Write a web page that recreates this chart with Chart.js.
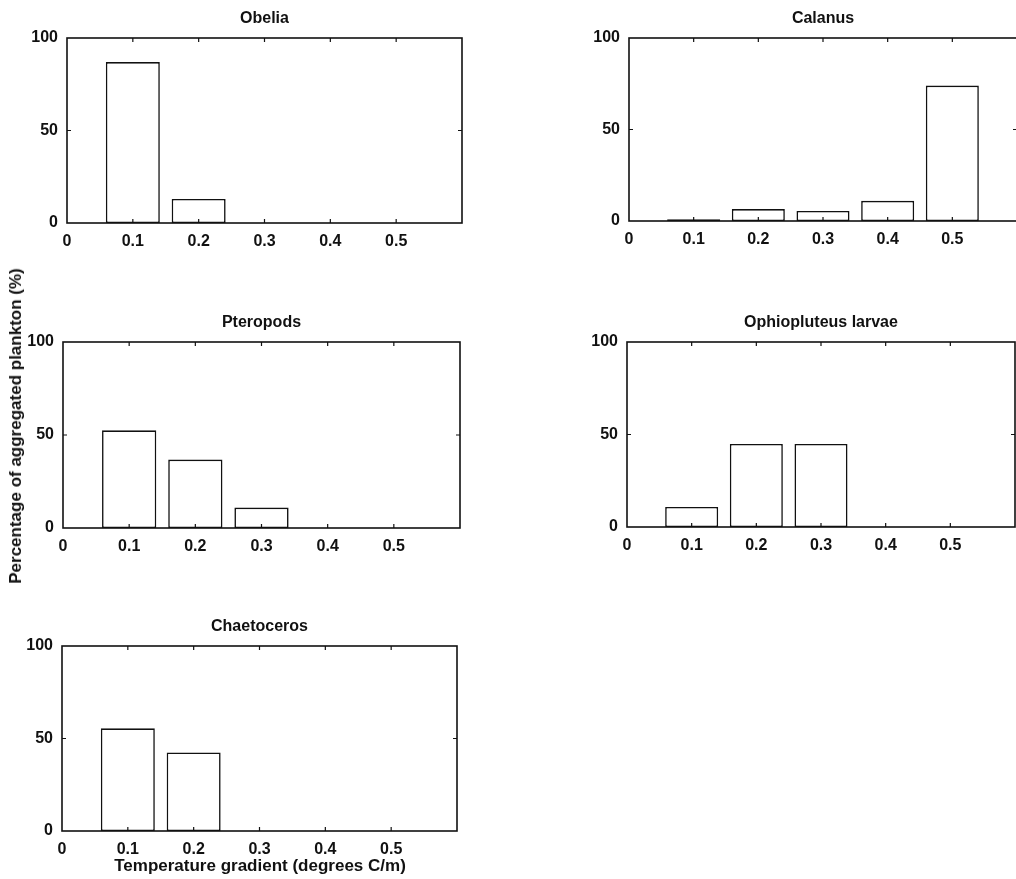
<!DOCTYPE html>
<html>
<head>
<meta charset="utf-8">
<script src="https://cdn.jsdelivr.net/npm/chart.js@4.4.1/dist/chart.umd.min.js"></script>
<style>
  html, body { margin: 0; padding: 0; background: #fff; overflow: hidden; }
  body { width: 1016px; height: 879px; position: relative; font-family: 'Liberation Sans', Arial, sans-serif; }
  canvas { position: absolute; }
  .lbl { position: absolute; font-weight: bold; font-size: 17px; color: #111; white-space: nowrap; }
</style>
</head>
<body>
<canvas id="c1"></canvas>
<canvas id="c2"></canvas>
<canvas id="c3"></canvas>
<canvas id="c4"></canvas>
<canvas id="c5"></canvas>
<div class="lbl" id="ylab" style="left:16px; top:426px; transform: translate(-50%,-50%) rotate(-90deg);">Percentage of aggregated plankton (%)</div>
<div class="lbl" id="xlab" style="left:260px; top:866px; transform: translate(-50%,-50%);">Temperature gradient (degrees C/m)</div>
<script>
// gradient classes (degrees C/m)
const gradients = [0.1, 0.2, 0.3, 0.4, 0.5];
const xTicks = [0, 0.1, 0.2, 0.3, 0.4, 0.5, 0.6];
const yTicks = [0, 50, 100];

// percentage of aggregated plankton per taxon
const obelia = [87, 13, 0, 0, 0];
const calanus = [1, 6.5, 5.5, 11, 74];
const pteropods = [52.5, 36.8, 11, 0, 0];
const ophiopluteus = [10.8, 44.9, 44.9, 0, 0];
const chaetoceros = [55.5, 42.5, 0, 0, 0];

// panel boxes: left, top, right, bottom of plot area
const panels = [
  { id: 'c1', title: 'Obelia', values: obelia, box: [67, 38, 462, 223] },
  { id: 'c2', title: 'Calanus', values: calanus, box: [629, 38, 1017, 221] },
  { id: 'c3', title: 'Pteropods', values: pteropods, box: [63, 342, 460, 528] },
  { id: 'c4', title: 'Ophiopluteus larvae', values: ophiopluteus, box: [627, 342, 1015, 527] },
  { id: 'c5', title: 'Chaetoceros', values: chaetoceros, box: [62, 646, 457, 831] }
];

const FONT = "'Liberation Sans', Arial, sans-serif";
const PADL = 50, PADT = 34, PADR = 10, PADB = 30;

// frame with inward ticks on all four sides + title
const frame = {
  id: 'frame',
  afterDraw(chart, args, opts) {
    const ctx = chart.ctx;
    const a = chart.chartArea;
    const xs = chart.scales.x, ys = chart.scales.y;
    ctx.save();
    ctx.strokeStyle = '#111';
    ctx.lineWidth = 1.6;
    ctx.strokeRect(a.left, a.top, a.right - a.left, a.bottom - a.top);
    ctx.lineWidth = 1.2;
    ctx.beginPath();
    xTicks.slice(1, -1).forEach(v => {
      const px = xs.getPixelForValue(v);
      ctx.moveTo(px, a.bottom); ctx.lineTo(px, a.bottom - 4);
      ctx.moveTo(px, a.top); ctx.lineTo(px, a.top + 4);
    });
    yTicks.slice(1, -1).forEach(v => {
      const py = ys.getPixelForValue(v);
      ctx.moveTo(a.left, py); ctx.lineTo(a.left + 4, py);
      ctx.moveTo(a.right, py); ctx.lineTo(a.right - 4, py);
    });
    ctx.stroke();
    ctx.fillStyle = '#111';
    ctx.font = 'bold 16px ' + FONT;
    ctx.textAlign = 'center';
    ctx.textBaseline = 'alphabetic';
    ctx.fillText(opts.text, (a.left + a.right) / 2, a.top - 15);
    ctx.restore();
  }
};

panels.forEach(p => {
  const [L, T, R, B] = p.box;
  const cv = document.getElementById(p.id);
  const w = R - L + PADL + PADR, h = B - T + PADT + PADB;
  cv.style.left = (L - PADL) + 'px';
  cv.style.top = (T - PADT) + 'px';
  cv.style.width = w + 'px';
  cv.style.height = h + 'px';
  cv.width = w; cv.height = h;

  new Chart(cv.getContext('2d'), {
    type: 'bar',
    data: {
      datasets: [{
        data: gradients.map((g, i) => ({ x: g, y: p.values[i] })),
        backgroundColor: '#fff',
        borderColor: '#111',
        borderWidth: 1.6,
        borderSkipped: false,
        barPercentage: 0.82,
        categoryPercentage: 1.0
      }]
    },
    options: {
      responsive: false,
      animation: false,
      layout: { padding: { top: PADT, right: PADR, left: 0, bottom: 0 } },
      plugins: { legend: { display: false }, tooltip: { enabled: false }, frame: { text: p.title } },
      scales: {
        x: {
          type: 'linear', min: 0, max: 0.6, offset: false,
          afterFit: s => { s.height = PADB; },
          afterBuildTicks: s => { s.ticks = xTicks.map(v => ({ value: v })); },
          grid: { display: false }, border: { display: false },
          ticks: {
            padding: 1, color: '#111', maxRotation: 0, autoSkip: false,
            font: { family: FONT, size: 16, weight: 'bold' },
            callback: v => v === 0 ? '0' : (v > 0.55 ? '' : v.toFixed(1))
          }
        },
        y: {
          min: 0, max: 100,
          afterFit: s => { s.width = PADL; },
          afterBuildTicks: s => { s.ticks = yTicks.map(v => ({ value: v })); },
          grid: { display: false }, border: { display: false },
          ticks: {
            padding: 1, color: '#111',
            font: { family: FONT, size: 16, weight: 'bold' }
          }
        }
      }
    },
    plugins: [frame]
  });
});
</script>
</body>
</html>
